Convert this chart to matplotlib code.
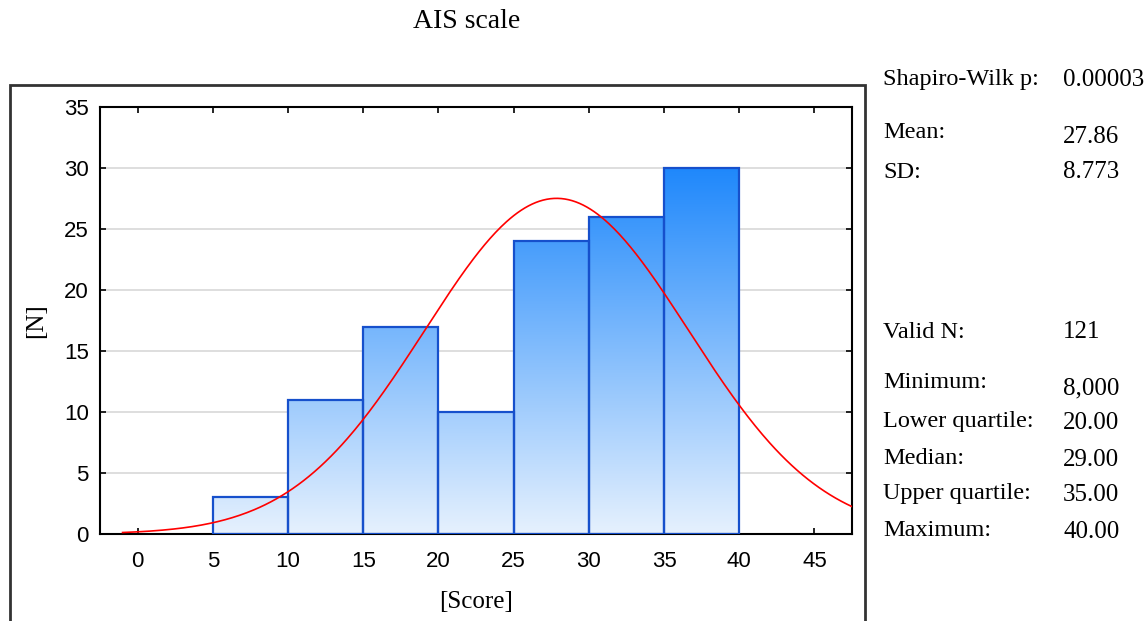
import numpy as np
import matplotlib.pyplot as plt
from matplotlib.patches import Rectangle
from matplotlib.colors import LinearSegmentedColormap

# --- datos ---
bin_edges = [5, 10, 15, 20, 25, 30, 35, 40]
counts = [3, 11, 17, 10, 24, 26, 30]
n_valid = 121
media = 27.86
sd = 8.773

stat_labels = ["Shapiro-Wilk p:", "Mean:", "SD:", "Valid N:", "Minimum:",
               "Lower quartile:", "Median:", "Upper quartile:", "Maximum:"]
stat_values = ["0.00003", "27.86", "8.773", "121", "8,000",
               "20.00", "29.00", "35.00", "40.00"]

serif = "Liberation Serif"
sans = "Liberation Sans"

fig = plt.figure(figsize=(11.48, 6.21), dpi=100)
ax = fig.add_axes([100/1148, 1-534/621, 752/1148, 427/621])

# gradiente de las barras
cmap = LinearSegmentedColormap.from_list("azul", ["#e6f1fe", "#1f88fb"])
grad = np.linspace(0, 1, 256).reshape(-1, 1)
top = max(counts)
for i, c in enumerate(counts):
    x0, x1 = bin_edges[i], bin_edges[i+1]
    rect = Rectangle((x0, 0), x1 - x0, c, facecolor="none",
                     edgecolor="#1650cc", lw=1.6, zorder=3)
    ax.add_patch(rect)
    im = ax.imshow(grad, cmap=cmap, origin="lower", aspect="auto",
                   extent=(x0, x1, 0, top), zorder=2)
    im.set_clip_path(rect)

# curva normal
xs = np.linspace(-1, 47.5, 400)
w = bin_edges[1] - bin_edges[0]
ys = n_valid * w / (sd * np.sqrt(2*np.pi)) * np.exp(-0.5*((xs - media)/sd)**2)
ax.plot(xs, ys, color="red", lw=1.2, zorder=4)

ax.set_xlim(-2.5, 47.5)
ax.set_ylim(0, 35)
ax.set_xticks(range(0, 50, 5))
ax.set_yticks(range(0, 40, 5))
ax.yaxis.grid(True, color="#d8d8d8", lw=1.2, zorder=0)
ax.set_axisbelow(True)
ax.tick_params(direction="in", top=True, right=True, length=4, width=1.2,
               labelsize=16)
ax.tick_params(axis="x", pad=12)
ax.tick_params(axis="y", pad=8)
for lab in ax.get_xticklabels() + ax.get_yticklabels():
    lab.set_fontfamily(sans)
for s in ax.spines.values():
    s.set_linewidth(1.5)

ax.set_xlabel("[Score]", fontfamily=serif, fontsize=18, labelpad=14)
ax.set_ylabel("[N]", fontfamily=serif, fontsize=18, labelpad=12)

fig.text(467/1148, 1-21/621, "AIS scale", fontfamily=serif, fontsize=20,
         ha="center", va="center")

# marco exterior
fig.patches.append(Rectangle((10/1148, -0.05), 855/1148, 1.05 - 85/621,
                             transform=fig.transFigure, fill=False,
                             edgecolor="#333333", lw=2))

# estadisticos
lab_y = [80, 132, 172, 332, 383, 422, 458, 493, 530]
val_y = [80, 137, 172, 332, 388, 423, 460, 495, 532]
for lab, val, yl, yv in zip(stat_labels, stat_values, lab_y, val_y):
    fig.text(883/1148, 1-yl/621, lab, fontfamily=serif, fontsize=17.5,
             ha="left", va="center")
    fig.text(1063/1148, 1-yv/621, val, fontfamily=serif, fontsize=18,
             ha="left", va="center")

fig.savefig("out.png", dpi=100)
